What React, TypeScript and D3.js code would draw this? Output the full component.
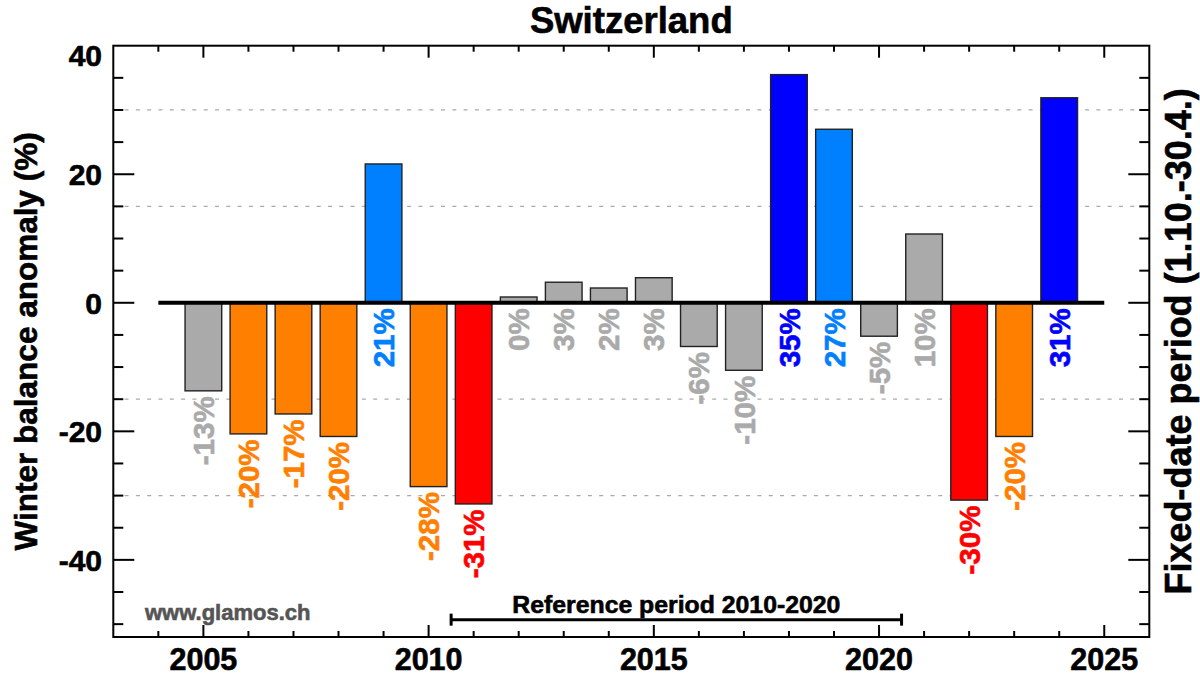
import * as d3 from 'd3'

// winter balance anomaly (%) per hydrological year, Switzerland
const years = [2005, 2006, 2007, 2008, 2009, 2010, 2011, 2012, 2013, 2014, 2015, 2016, 2017, 2018, 2019, 2020, 2021, 2022, 2023, 2024]
const anomalies = [-13.7, -20.4, -17.3, -20.8, 21.6, -28.6, -31.3, 0.9, 3.2, 2.3, 3.9, -6.8, -10.5, 35.5, 27.0, -5.2, 10.7, -30.7, -20.8, 31.9]

const yTickLabels = [-40, -20, 0, 20, 40]
const xTickLabels = [2005, 2010, 2015, 2020, 2025]
const gridValues = [-30, -15, 15, 30]
const refPeriod = [2010.5, 2020.5]

const W = 1200
const H = 677
const left = 113.3
const right = 1149.3
const top = 45.7
const bottom = 637

const font = '"Liberation Sans", Arial, Helvetica, sans-serif'

export default function App() {
  const x = d3.scaleLinear().domain([2003, 2026]).range([left, right])
  const y = d3.scaleLinear().domain([-52, 40]).range([bottom, top])

  const color = d3.scaleThreshold<number, string>()
    .domain([-30, -15, 15, 30])
    .range(['#ff0000', '#ff8000', '#aaaaaa', '#0080ff', '#0000ff'])

  const barHalf = 0.407
  const minorX = d3.range(2004, 2026)
  const minorY = d3.range(-50, 40, 5)
  const refY = y(-49.3)

  // a thin outline in the text colour to get closer to the heavy bold of the original
  const heavy = (c: string) => ({ fill: c, stroke: c, strokeWidth: 0.6 })

  return (
    <svg width={W} height={H} style={{ position: 'absolute', left: 0, top: 0, background: '#fff' }}
      fontFamily={font} fontWeight="bold">

      {/* dashed grid */}
      {gridValues.map(g => (
        <line key={'g' + g} x1={left} x2={right} y1={y(g)} y2={y(g)}
          stroke="#aaaaaa" strokeWidth={1.3} strokeDasharray="4 7.3" />
      ))}

      {/* bars */}
      {years.map((yr, i) => {
        const v = anomalies[i]
        return (
          <rect key={'b' + yr}
            x={x(yr - barHalf)} width={x(yr + barHalf) - x(yr - barHalf)}
            y={y(Math.max(v, 0))} height={Math.abs(y(v) - y(0))}
            fill={color(v)} stroke="#222" strokeWidth={1.4} />
        )
      })}

      {/* zero line */}
      <line x1={x(2004)} x2={x(2025)} y1={y(0)} y2={y(0)} stroke="#000" strokeWidth={4} />

      {/* bar labels */}
      {years.map((yr, i) => {
        const v = anomalies[i]
        const y0 = (v < 0 ? y(v) : y(0)) + 5.5
        return (
          <text key={'l' + yr} transform={`translate(${x(yr)},${y0}) rotate(-90)`}
            textAnchor="end" dy="0.36em" fontSize={29.5} {...heavy(color(v))}>
            {`${Math.trunc(v)}%`}
          </text>
        )
      })}

      {/* frame */}
      <rect x={left} y={top} width={right - left} height={bottom - top} fill="none" stroke="#000" strokeWidth={2} />

      {/* x ticks top & bottom */}
      {minorX.map(t => {
        const len = t % 5 === 0 ? 12 : 6
        return (
          <g key={'xt' + t} stroke="#000" strokeWidth={2}>
            <line x1={x(t)} x2={x(t)} y1={bottom} y2={bottom - len} />
            <line x1={x(t)} x2={x(t)} y1={top} y2={top + len} />
          </g>
        )
      })}

      {/* y ticks left & right */}
      {minorY.map(t => {
        const len = t % 20 === 0 ? 21 : 10
        return (
          <g key={'yt' + t} stroke="#000" strokeWidth={2}>
            <line x1={left} x2={left + len} y1={y(t)} y2={y(t)} />
            <line x1={right} x2={right - len} y1={y(t)} y2={y(t)} />
          </g>
        )
      })}

      {/* y tick labels */}
      {yTickLabels.map(t => (
        <text key={'yl' + t} x={102} y={Math.max(y(t), top + 9)} dy="0.36em" textAnchor="end" fontSize={30} {...heavy('#000')}>
          {t}
        </text>
      ))}

      {/* x tick labels */}
      {xTickLabels.map(t => (
        <text key={'xl' + t} x={x(t)} y={670} textAnchor="middle" fontSize={30.5} {...heavy('#000')}>
          {t}
        </text>
      ))}

      {/* title */}
      <text x={(left + right) / 2} y={33} textAnchor="middle" fontSize={36.5} {...heavy('#000')}>Switzerland</text>

      {/* axis titles */}
      <text transform={`translate(36.5,${(top + bottom) / 2}) rotate(-90)`} textAnchor="middle" fontSize={31.5} {...heavy('#000')}>
        Winter balance anomaly (%)
      </text>
      <text transform={`translate(1191,${(top + bottom) / 2}) rotate(-90)`} textAnchor="middle" fontSize={36} {...heavy('#000')}>
        Fixed-date period (1.10.-30.4.)
      </text>

      {/* reference period */}
      <g stroke="#000" strokeWidth={3}>
        <line x1={x(refPeriod[0])} x2={x(refPeriod[1])} y1={refY} y2={refY} />
        <line x1={x(refPeriod[0])} x2={x(refPeriod[0])} y1={refY - 6} y2={refY + 6} />
        <line x1={x(refPeriod[1])} x2={x(refPeriod[1])} y1={refY - 6} y2={refY + 6} />
      </g>
      <text x={x((refPeriod[0] + refPeriod[1]) / 2)} y={refY - 6.5} textAnchor="middle" fontSize={24.8} {...heavy('#000')}>
        Reference period 2010-2020
      </text>

      {/* source */}
      <text x={145} y={619.5} fontSize={22} {...heavy('#555555')}>www.glamos.ch</text>
    </svg>
  )
}
